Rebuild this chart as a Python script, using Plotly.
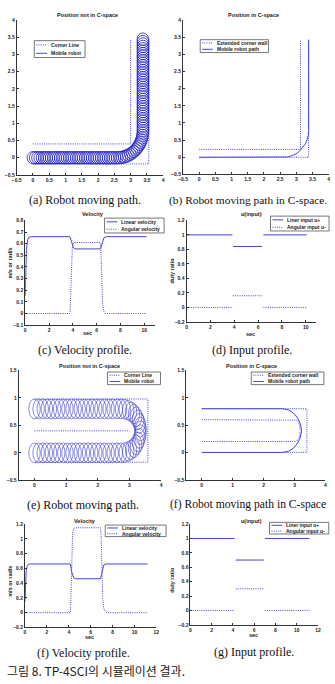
import plotly.graph_objects as go

# ---------------- data ----------------
robot_r = 0.18

# (a) Position not in C-space (corner)
a_inner_x = [0.0, 3.0, 3.0]
a_inner_y = [0.4, 0.4, 3.42]
a_outer_x = [0.0, 3.56, 3.56]
a_outer_y = [-0.18, -0.18, 3.42]
# robot centres: straight run along y = 0, the turn, then the climb along x = 3.38
a_run_x = [0.0, 0.07, 0.14, 0.21, 0.28, 0.35, 0.42, 0.49, 0.56, 0.63, 0.7, 0.77, 0.84,
           0.91, 0.98, 1.05, 1.12, 1.19, 1.26, 1.33, 1.4, 1.47, 1.54, 1.61, 1.68, 1.75,
           1.82, 1.89, 1.96, 2.03, 2.1, 2.17, 2.24, 2.31, 2.38, 2.45, 2.52, 2.59]
a_run_y = 0.0
a_turn_x = [2.668, 2.735, 2.802, 2.867, 2.930, 2.99, 3.047, 3.101, 3.152, 3.197, 3.239,
            3.275, 3.307, 3.333, 3.353, 3.368, 3.377]
a_turn_y = [0.003, 0.012, 0.027, 0.047, 0.073, 0.105, 0.141, 0.183, 0.228, 0.279, 0.333,
            0.39, 0.45, 0.513, 0.578, 0.645, 0.712]
a_climb_x = 3.38
a_climb_y = [0.78, 0.85, 0.92, 0.99, 1.06, 1.13, 1.2, 1.27, 1.34, 1.41, 1.48, 1.55, 1.62,
             1.69, 1.76, 1.83, 1.9, 1.97, 2.04, 2.11, 2.18, 2.25, 2.32, 2.39, 2.46, 2.53,
             2.6, 2.67, 2.74, 2.81, 2.88, 2.95, 3.02, 3.09, 3.16, 3.23, 3.3, 3.37, 3.44]

# (b) Position in C-space (corner)
b_wall_inner_x = [0.0, 3.13, 3.13]
b_wall_inner_y = [0.23, 0.23, 3.42]
b_wall_outer_x = [0.0, 3.38, 3.38]
b_wall_outer_y = [0.0, 0.0, 3.42]
b_path_x = [0.0, 2.6, 2.74, 2.87, 2.99, 3.10, 3.20, 3.28, 3.33, 3.37, 3.38, 3.38]
b_path_y = [0.0, 0.0, 0.01, 0.05, 0.10, 0.18, 0.28, 0.39, 0.51, 0.64, 0.78, 3.42]

# (c) Velocity (corner)
c_lin_t = [0, 0.05, 0.1, 0.2, 0.3, 0.5, 3.75, 3.85, 3.95, 4.05, 4.2, 6.3, 6.4, 6.5, 6.6, 6.8, 10.2]
c_lin_v = [0.15, 0.4, 0.55, 0.63, 0.655, 0.66, 0.66, 0.63, 0.59, 0.565, 0.555, 0.555, 0.58, 0.62, 0.65, 0.66, 0.66]
c_ang_t = [0, 3.75, 3.8, 3.85, 3.9, 3.95, 4.0, 4.1, 6.3, 6.35, 6.4, 6.45, 6.5, 6.6, 6.7, 10.2]
c_ang_v = [0, 0, 0.1, 0.3, 0.45, 0.55, 0.59, 0.61, 0.61, 0.55, 0.4, 0.2, 0.08, 0.02, 0, 0]

# (d) Input (corner)
d_t = [0, 3.85, None, 3.9, 6.35, None, 6.45, 10.1]
d_up = [1.0, 1.0, None, 0.84, 0.84, None, 1.0, 1.0]
d_um = [0.0, 0.0, None, 0.16, 0.16, None, 0.0, 0.0]

# (e) Position not in C-space (U-turn)
e_outer_x = [0.0, 3.58, 3.58, 0.0]
e_outer_y = [0.98, 0.98, -0.17, -0.17]
e_inner_x = [0.0, 3.0]
e_inner_y = [0.4, 0.4]
e_low_x = [0, 0.13, 0.26, 0.39, 0.52, 0.65, 0.78, 0.91, 1.04, 1.17, 1.3, 1.43, 1.56,
           1.69, 1.82, 1.95, 2.08, 2.21, 2.34, 2.47, 2.6, 2.73]
e_low_y = 0.0
e_turn_x = [2.85, 2.96, 3.05, 3.14, 3.21, 3.27, 3.31, 3.34, 3.35,
            3.34, 3.31, 3.27, 3.21, 3.14, 3.05, 2.96, 2.85]
e_turn_y = [0.006, 0.024, 0.054, 0.094, 0.143, 0.2, 0.263, 0.33, 0.4,
            0.47, 0.537, 0.6, 0.657, 0.706, 0.746, 0.776, 0.794]
e_high_x = [2.73, 2.6, 2.47, 2.34, 2.21, 2.08, 1.95, 1.82, 1.69, 1.56, 1.43, 1.3,
            1.17, 1.04, 0.91, 0.78, 0.65, 0.52, 0.39, 0.26, 0.13, 0]
e_high_y = 0.8

# (f) Position in C-space (U-turn)
f_outer_x = [0.0, 3.4, 3.4, 0.0]
f_outer_y = [0.8, 0.8, 0.0, 0.0]
f_inner_x = [0.0, 3.0, 3.07, 3.13, 3.17, 3.18, 3.17, 3.13, 3.07, 3.0, 0.0]
f_inner_y = [0.6, 0.6, 0.59, 0.55, 0.48, 0.4, 0.32, 0.25, 0.21, 0.2, 0.2]
f_path_x = [0.0, 2.6, 2.8, 2.97, 3.1, 3.19, 3.23, 3.19, 3.1, 2.97, 2.8, 2.6, 0.0]
f_path_y = [0.8, 0.8, 0.78, 0.72, 0.63, 0.52, 0.4, 0.28, 0.17, 0.08, 0.02, 0.0, 0.0]

# (f) Velocity (U-turn)
fv_lin_t = [0, 0.05, 0.1, 0.2, 0.3, 0.5, 4.15, 4.25, 4.35, 4.45, 4.6, 6.9, 7.0, 7.1, 7.2, 7.4, 11.2]
fv_lin_v = [0.15, 0.4, 0.55, 0.63, 0.655, 0.66, 0.66, 0.56, 0.5, 0.47, 0.46, 0.46, 0.52, 0.6, 0.645, 0.66, 0.66]
fv_ang_t = [0, 4.15, 4.2, 4.25, 4.3, 4.35, 4.45, 4.6, 6.9, 6.95, 7.0, 7.05, 7.1, 7.2, 7.3, 7.5, 11.2]
fv_ang_v = [0, 0, 0.2, 0.6, 0.95, 1.08, 1.14, 1.15, 1.15, 1.05, 0.8, 0.45, 0.2, 0.06, 0.02, 0, 0]

# (g) Input (U-turn)
g_t = [0, 4.15, None, 4.25, 6.9, None, 7.0, 11.2]
g_up = [1.0, 1.0, None, 0.7, 0.7, None, 1.0, 1.0]
g_um = [0.0, 0.0, None, 0.3, 0.3, None, 0.0, 0.0]

# robot centre lists assembled from the segments above
a_robot_x = a_run_x + a_turn_x + [a_climb_x for _ in a_climb_y]
a_robot_y = [a_run_y for _ in a_run_x] + a_turn_y + a_climb_y
e_robot_x = e_low_x + e_turn_x + e_high_x
e_robot_y = [e_low_y for _ in e_low_x] + e_turn_y + [e_high_y for _ in e_high_x]

# ---------------- style / layout helpers ----------------
W, H = 335, 684
BLUE = '#4646d6'
CIRC_A = '#2020c4'
CIRC_E = '#3b3bd2'
AXC = '#333333'
DOT = '1px,1.2px'
SANS = 'Liberation Sans'
SERIF = 'Liberation Serif'


def px(x):
    return x / W


def py(y):
    return 1 - y / H


fig = go.Figure()
shapes = []
annotations = []


def line(ax, x, y, dash='solid', width=1.0):
    sfx = '' if ax == 1 else str(ax)
    fig.add_trace(go.Scatter(x=x, y=y, mode='lines', xaxis='x' + sfx, yaxis='y' + sfx,
                             line=dict(color=BLUE, width=width, dash=dash),
                             showlegend=False, hoverinfo='skip', connectgaps=False))


def circles(ax, cx, cy, r, color, width):
    sfx = '' if ax == 1 else str(ax)
    for x, y in zip(cx, cy):
        shapes.append(dict(type='circle', xref='x' + sfx, yref='y' + sfx,
                           x0=x - r, x1=x + r, y0=y - r, y1=y + r,
                           line=dict(color=color, width=width), layer='above'))


def axis_pair(ax, xd, yd, xr, yr, xt, yt):
    sfx = '' if ax == 1 else str(ax)
    tf = dict(family=SANS, size=5, color='#222', weight='bold')
    common = dict(showline=True, linecolor=AXC, linewidth=1, ticks='inside', ticklen=2,
                  tickcolor=AXC, tickwidth=0.8, tickfont=tf, showgrid=False,
                  zeroline=False, mirror=False, fixedrange=True, tickmode='array')
    fig.update_layout(**{
        'xaxis' + sfx: dict(domain=[px(xd[0]), px(xd[1])], range=xr, anchor='y' + sfx,
                            tickvals=xt, **common),
        'yaxis' + sfx: dict(domain=[py(yd[1]), py(yd[0])], range=yr, anchor='x' + sfx,
                            tickvals=yt, **common),
    })


def text(x, y, s, size=5.5, family=SANS, bold=True, anchor='center', angle=0, color='#222'):
    annotations.append(dict(xref='paper', yref='paper', x=px(x), y=py(y), text=s,
                            showarrow=False, xanchor=anchor, yanchor='middle', textangle=angle,
                            font=dict(family=family, size=size, color=color,
                                      weight='bold' if bold else 'normal')))


def caption(x, y, s, anchor='center', size=12):
    text(x, y, s, size=size, family=SERIF, bold=False, anchor=anchor, color='#111')


def legend(box, entries, fs=5):
    x0, y0, x1, y1 = box
    shapes.append(dict(type='rect', xref='paper', yref='paper', x0=px(x0), x1=px(x1),
                       y0=py(y1), y1=py(y0), line=dict(color='#555', width=0.8),
                       fillcolor='white', layer='above'))
    n = len(entries)
    for i, (name, dash) in enumerate(entries):
        yc = y0 + (y1 - y0) * (i + 0.5) / n
        shapes.append(dict(type='line', xref='paper', yref='paper', x0=px(x0 + 2), x1=px(x0 + 13),
                           y0=py(yc), y1=py(yc), line=dict(color=BLUE, width=1, dash=dash),
                           layer='above'))
        text(x0 + 15, yc, name, size=fs, anchor='left')


# ---------------- panels ----------------
half = [-0.5, 0, 0.5, 1, 1.5, 2, 2.5, 3, 3.5, 4]

# (a)
axis_pair(1, (12, 162), (17, 173.5), [-0.5, 4], [-0.5, 4], half, half)
line(1, a_inner_x, a_inner_y, DOT)
line(1, a_outer_x, a_outer_y, DOT)
circles(1, a_robot_x, a_robot_y, robot_r, CIRC_A, 0.8)
text(85, 12, 'Position not in C-space')
legend((30, 38, 82, 55), [('Corner Line', DOT), ('Mobile robot', 'solid')])
caption(82, 199, '(a) Robot moving path.')

# (b)
axis_pair(2, (182.4, 331.6), (17, 173), [-0.5, 4], [-0.5, 4], half, half)
line(2, b_wall_inner_x, b_wall_inner_y, DOT)
line(2, b_wall_outer_x, b_wall_outer_y, DOT)
line(2, b_path_x, b_path_y, 'solid')
text(255, 12, 'Position in C-space')
legend((200, 37, 270, 50), [('Extended corner wall', DOT), ('Mobile robot path', 'solid')])
caption(166, 199, '(b) Robot moving path in C-space.', anchor='left', size=11.4)

# (c)
axis_pair(3, (20.7, 153.7), (219.3, 325), [0, 10.9], [-0.1, 0.8], [0, 2, 4, 6, 8, 10],
          [-0.1, 0, 0.1, 0.2, 0.3, 0.4, 0.5, 0.6, 0.7, 0.8])
line(3, c_lin_t, c_lin_v, 'solid')
line(3, c_ang_t, c_ang_v, DOT)
text(90, 213, 'Velocity')
text(85, 333, 'sec')
text(5, 262, 'm/s or rad/s', angle=-90)
legend((102, 217, 163, 232), [('Linear velocity', 'solid'), ('Angular velocity', DOT)])
caption(82, 350, '(c) Velocity profile.')

# (d)
axis_pair(4, (186, 319), (219.3, 321.7), [0, 10.9], [-0.2, 1.2], [0, 2, 4, 6, 8, 10],
          [-0.2, 0, 0.2, 0.4, 0.6, 0.8, 1, 1.2])
line(4, d_t, d_up, 'solid')
line(4, d_t, d_um, DOT)
text(253, 213, 'u(input)')
text(252, 334, 'sec')
text(171, 270, 'duty ratio', angle=-90)
legend((272, 215, 332, 230), [('Liner input u+', 'solid'), ('Angular input u-', DOT)])
caption(253, 350, '(d) Input profile.')

# (e)
axis_pair(5, (14, 160), (370.7, 481.5), [-0.5, 4], [-0.5, 1.5], [0, 1, 2, 3, 4],
          [-0.5, 0, 0.5, 1, 1.5])
line(5, e_outer_x, e_outer_y, DOT)
line(5, e_inner_x, e_inner_y, DOT)
circles(5, e_robot_x, e_robot_y, robot_r, CIRC_E, 0.6)
text(87, 366, 'Position not in C-space')
legend((105, 372.3, 159.3, 385), [('Corner Line', DOT), ('Mobile robot', 'solid')])
caption(80, 506, '(e) Robot moving path.')

# (f) path
axis_pair(6, (185.7, 328.3), (370.7, 481), [-0.5, 4], [-0.5, 1.5], [0, 1, 2, 3, 4],
          [-0.5, 0, 0.5, 1, 1.5])
line(6, f_outer_x, f_outer_y, DOT)
line(6, f_inner_x, f_inner_y, DOT)
line(6, f_path_x, f_path_y, 'solid')
text(253, 366, 'Position in C-space')
legend((252.3, 372.3, 326.7, 385), [('Extended corner wall', DOT), ('Mobile robot path', 'solid')])
caption(167, 506, '(f) Robot moving path in C-space', anchor='left', size=11.6)

# (f) velocity
axis_pair(7, (20.5, 155), (525.7, 630), [0, 12], [-0.2, 1.2], [0, 2, 4, 6, 8, 10, 12],
          [-0.2, 0, 0.2, 0.4, 0.6, 0.8, 1, 1.2])
line(7, fv_lin_t, fv_lin_v, 'solid')
line(7, fv_ang_t, fv_ang_v, DOT)
text(82, 522.7, 'Velocity')
text(87, 640, 'sec')
text(5, 583, 'm/s or rad/s', angle=-90)
legend((102.7, 526.7, 165, 538.3), [('Linear velocity', 'solid'), ('Angular velocity', DOT)])
caption(80, 656, '(f) Velocity profile.')

# (g)
axis_pair(8, (190, 320.7), (525.7, 627.3), [0, 12], [-0.2, 1.2], [0, 2, 4, 6, 8, 10, 12],
          [-0.2, 0, 0.2, 0.4, 0.6, 0.8, 1, 1.2])
line(8, g_t, g_up, 'solid')
line(8, g_t, g_um, DOT)
text(253, 522.7, 'u(input)')
text(255, 638, 'sec')
text(171, 582, 'duty ratio', angle=-90)
legend((271, 524, 331.7, 535.7), [('Liner input u+', 'solid'), ('Angular input u-', DOT)])
caption(255, 655, '(g) Input profile.')

# figure caption
text(0, 673, '그림 8. TP-4SCI의 시뮬레이션 결과.', size=12, family='Noto Sans CJK KR',
     bold=False, anchor='left', color='#222')

fig.update_layout(width=W, height=H, autosize=False, margin=dict(l=0, r=0, t=0, b=0),
                  paper_bgcolor='white', plot_bgcolor='white', showlegend=False,
                  shapes=shapes, annotations=annotations)

fig.write_html('out.html', config={'displayModeBar': False})
